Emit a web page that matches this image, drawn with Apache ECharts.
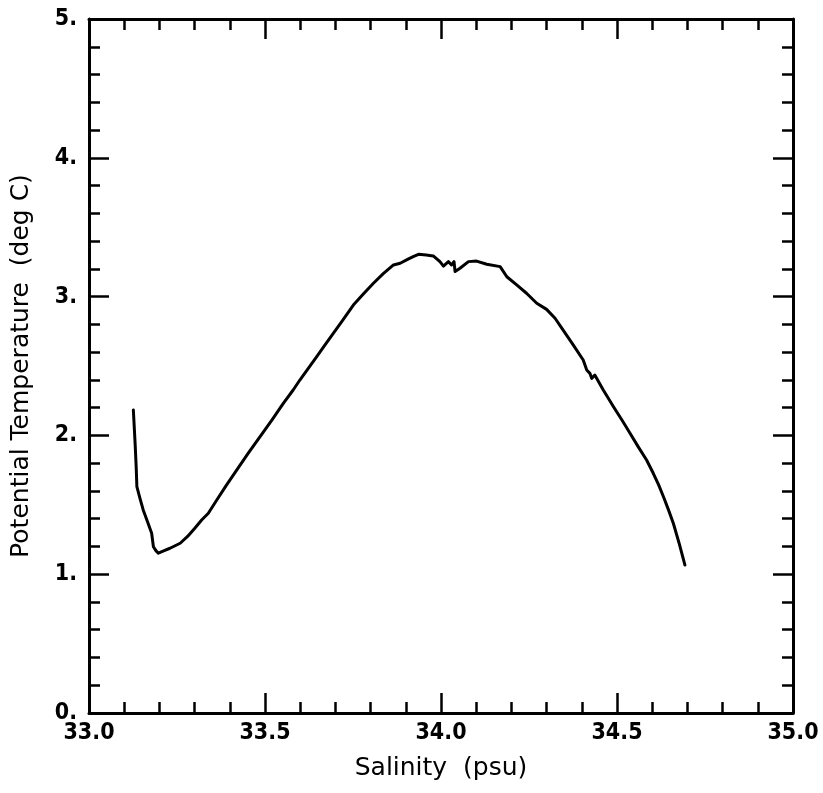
<!DOCTYPE html>
<html>
<head>
<meta charset="utf-8">
<script src="https://cdn.jsdelivr.net/npm/echarts@6/dist/echarts.min.js"></script>
<style>
html,body{margin:0;padding:0;background:#fff;}
#chart{width:823px;height:793px;}
</style>
</head>
<body>
<div id="chart"></div>
<script>
// Salinity (psu) along the profile
const salinity = [33.126,33.131,33.134,33.136,33.145,33.154,33.166,33.178,33.183,33.190,33.197,33.212,33.230,33.259,33.280,33.300,33.320,33.339,33.363,33.390,33.420,33.452,33.486,33.520,33.552,33.580,33.599,33.623,33.647,33.670,33.694,33.718,33.741,33.751,33.780,33.808,33.836,33.865,33.884,33.905,33.921,33.936,33.958,33.978,33.997,34.007,34.021,34.030,34.037,34.040,34.054,34.078,34.101,34.130,34.168,34.187,34.215,34.243,34.272,34.300,34.324,34.347,34.376,34.404,34.414,34.423,34.428,34.437,34.461,34.490,34.514,34.537,34.560,34.584,34.603,34.618,34.632,34.646,34.660,34.677,34.693];
// Potential temperature (deg C)
const potTemp = [2.183,1.943,1.775,1.631,1.545,1.463,1.380,1.295,1.198,1.170,1.151,1.168,1.187,1.223,1.272,1.330,1.390,1.439,1.535,1.640,1.751,1.870,1.991,2.112,2.231,2.327,2.399,2.483,2.567,2.651,2.735,2.819,2.903,2.939,3.020,3.096,3.165,3.228,3.240,3.268,3.288,3.305,3.300,3.293,3.252,3.220,3.252,3.228,3.252,3.180,3.204,3.252,3.256,3.233,3.216,3.143,3.084,3.024,2.952,2.908,2.844,2.759,2.651,2.543,2.471,2.447,2.411,2.435,2.327,2.207,2.111,2.015,1.919,1.823,1.727,1.645,1.558,1.465,1.367,1.218,1.066];
const xTicks = [33.0,33.5,34.0,34.5,35.0];
const yTicks = [0,1,2,3,4,5];

const chart = echarts.init(document.getElementById('chart'));
const LABEL_FONT = '"DejaVu Sans Condensed", "DejaVu Sans", sans-serif';
const TITLE_FONT = '"DejaVu Sans", sans-serif';
const axisLine = {show:true, onZero:false, lineStyle:{color:'#000', width:3}};
const majTick = {show:true, inside:true, length:20, lineStyle:{color:'#000', width:2.5}};
const minTick = {show:true, splitNumber:5, length:11, lineStyle:{color:'#000', width:2.5}};

chart.setOption({
  animation:false,
  backgroundColor:'#fff',
  grid:{left:89, top:19, right:30, bottom:80},
  xAxis:[{
    type:'value', min:xTicks[0], max:xTicks[xTicks.length-1], interval:0.5,
    position:'bottom',
    name:'Salinity  (psu)', nameLocation:'middle', nameGap:43,
    nameTextStyle:{fontFamily:TITLE_FONT, fontSize:25, color:'#000'},
    axisLine:axisLine, axisTick:majTick, minorTick:minTick,
    splitLine:{show:false},
    axisLabel:{fontFamily:LABEL_FONT, fontSize:23, fontWeight:'bold', color:'#000', margin:9,
      formatter:v=>v.toFixed(1)}
  },{
    type:'value', min:xTicks[0], max:xTicks[xTicks.length-1], interval:0.5,
    position:'top',
    axisLine:axisLine, axisTick:majTick, minorTick:minTick,
    splitLine:{show:false}, axisLabel:{show:false}
  }],
  yAxis:[{
    type:'value', min:yTicks[0], max:yTicks[yTicks.length-1], interval:1,
    position:'left',
    name:'Potential Temperature  (deg C)', nameLocation:'middle', nameGap:55, nameRotate:90,
    nameTextStyle:{fontFamily:TITLE_FONT, fontSize:25, color:'#000'},
    axisLine:axisLine, axisTick:majTick, minorTick:minTick,
    splitLine:{show:false},
    axisLabel:{fontFamily:LABEL_FONT, fontSize:23, fontWeight:'bold', color:'#000', margin:12,
      formatter:v=>v.toFixed(0)+'.'}
  },{
    type:'value', min:yTicks[0], max:yTicks[yTicks.length-1], interval:1,
    position:'right',
    axisLine:axisLine, axisTick:majTick, minorTick:minTick,
    splitLine:{show:false}, axisLabel:{show:false}
  }],
  series:[{
    type:'line', xAxisIndex:0, yAxisIndex:0,
    data:salinity.map((s,i)=>[s,potTemp[i]]),
    showSymbol:false, smooth:false,
    lineStyle:{color:'#000', width:3, join:'round', cap:'round'}
  }]
});
</script>
</body>
</html>
